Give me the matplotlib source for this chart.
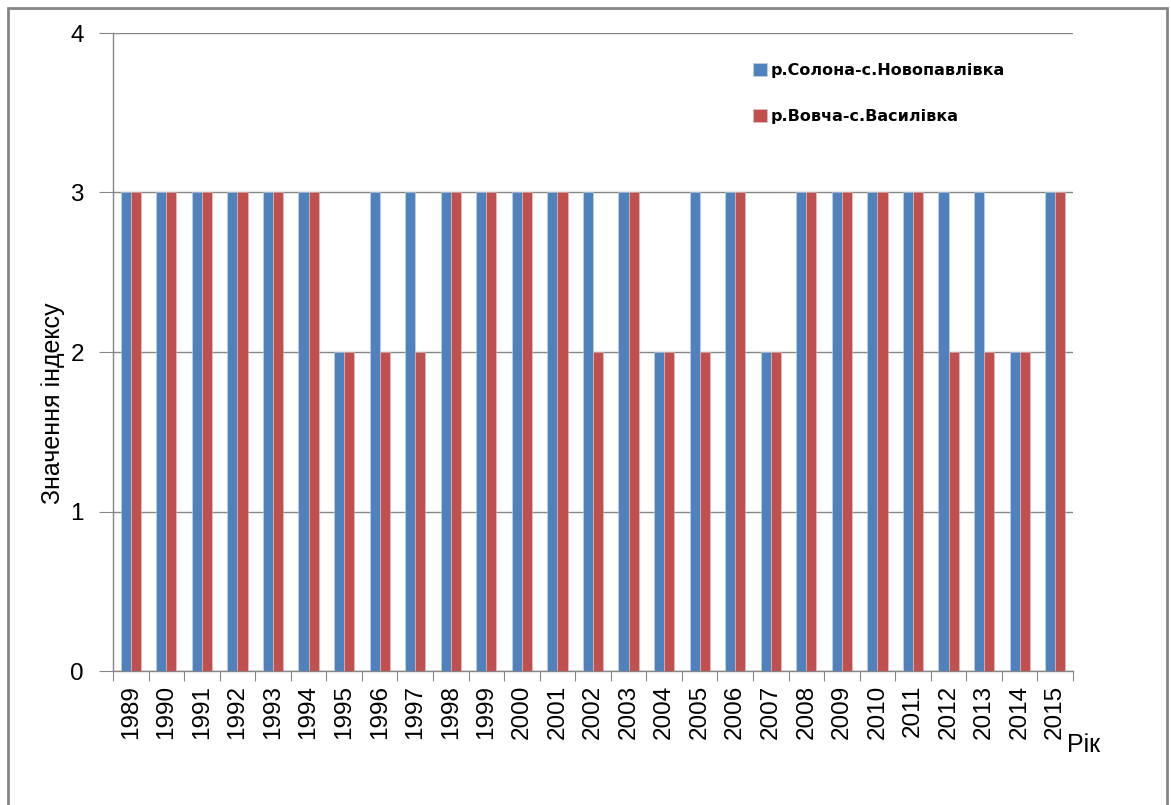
import matplotlib.pyplot as plt
import numpy as np

# Index values by year for two gauging stations
years = list(range(1989, 2016))
solona = [3, 3, 3, 3, 3, 3, 2, 3, 3, 3, 3, 3, 3, 3, 3, 2, 3, 3, 2, 3, 3, 3, 3, 3, 3, 2, 3]
vovcha = [3, 3, 3, 3, 3, 3, 2, 2, 2, 3, 3, 3, 3, 2, 3, 2, 2, 3, 2, 3, 3, 3, 3, 2, 2, 2, 3]
labels = ["р.Солона-с.Новопавлівка", "р.Вовча-с.Василівка"]

BLUE = "#4F81BD"
RED = "#C0504D"
GRID = "#868686"

plt.rcParams["font.family"] = ["Liberation Sans", "DejaVu Sans"]

fig = plt.figure(figsize=(11.71, 8.05), dpi=100, facecolor="white")
ax = fig.add_axes([113 / 1171, 1 - 671 / 805, 960 / 1171, 638 / 805])

x = np.arange(len(years))
w = 1 / 3.5
ax.bar(x - w / 2, solona, width=w, color=BLUE, edgecolor="#C9D7EA", linewidth=0.4,
       label=labels[0], zorder=3)
ax.bar(x + w / 2, vovcha, width=w, color=RED, edgecolor="#E6C3C2", linewidth=0.4,
       label=labels[1], zorder=3)

ax.set_xlim(-0.5, len(years) - 0.5)
ax.set_ylim(0, 4)
ax.set_yticks([0, 1, 2, 3, 4])
ax.yaxis.grid(True, color=GRID, linewidth=1.0, zorder=0)
ax.tick_params(axis="y", length=10, color=GRID, labelsize=17.5, pad=11)

# category ticks sit between the year groups
ax.set_xticks(np.arange(len(years) + 1) - 0.5, minor=False)
ax.set_xticklabels([])
ax.tick_params(axis="x", which="major", length=7, color=GRID)
ax.set_xticks(x, minor=True)
ax.set_xticklabels([str(y) for y in years], minor=True, rotation=90, fontsize=17.5)
ax.tick_params(axis="x", which="minor", length=0, pad=10)

for side in ["top", "right"]:
    ax.spines[side].set_visible(False)
for side in ["left", "bottom"]:
    ax.spines[side].set_color(GRID)
    ax.spines[side].set_linewidth(1.0)

fig.text(53 / 1171, 1 - 403 / 805, "Значення індексу", fontsize=18,
         rotation=90, ha="center", va="center")
fig.text(1067 / 1171, 1 - 745 / 805, "Рік", fontsize=18, va="center", ha="left")

leg = ax.legend(loc="upper left", bbox_to_anchor=(0.652, 0.975), frameon=False,
                prop={"family": "DejaVu Sans", "weight": "bold", "size": 11.5},
                handlelength=0.85, handleheight=0.85, handletextpad=0.25,
                labelspacing=1.9)

# outer chart border
fig.patches.append(plt.Rectangle((8 / 1171, -0.01), 1159 / 1171, 1 - 8 / 805 + 0.01,
                                 transform=fig.transFigure, fill=False,
                                 edgecolor="#868686", linewidth=2.0))

fig.savefig("out.png", dpi=100, facecolor="white")
